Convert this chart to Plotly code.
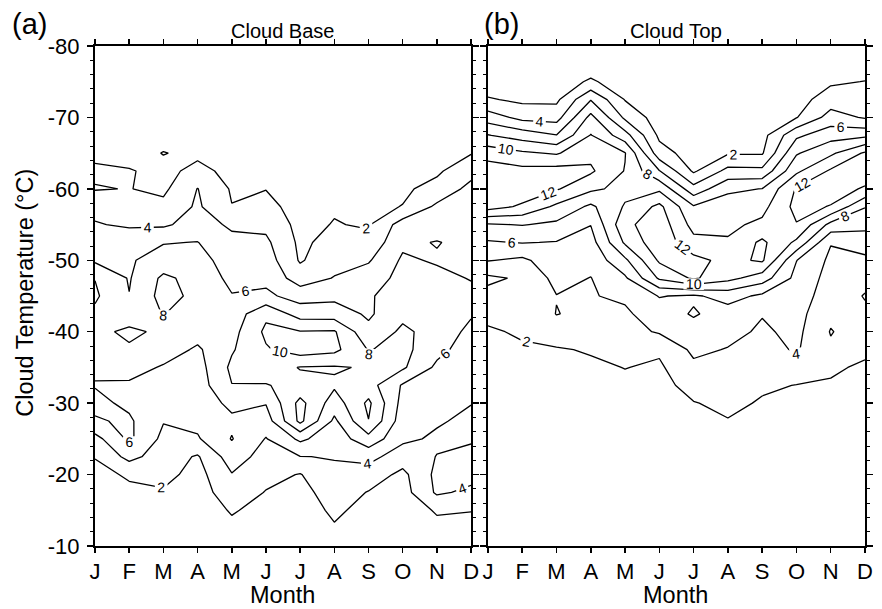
import numpy as np
import plotly.graph_objects as go

# ---------------- data ----------------
month_pos = [1, 2, 3, 4, 5, 6, 7, 8, 9, 10, 11, 12]
month_labels = ["J", "F", "M", "A", "M", "J", "J", "A", "S", "O", "N", "D"]
temps = [-80, -77.5, -75, -72.5, -70, -67.5, -65, -62.5, -60, -57.5, -55, -52.5, -50, -47.5,
         -45, -42.5, -40, -37.5, -35, -32.5, -30, -27.5, -25, -22.5, -20, -17.5, -15, -12.5, -10]
ytick_vals = [-80, -70, -60, -50, -40, -30, -20, -10]
ytick_text = ["-80", "-70", "-60", "-50", "-40", "-30", "-20", "-10"]
yminor_vals = [-78, -76, -74, -72, -68, -66, -64, -62, -58, -56, -54, -52, -48, -46, -44, -42,
               -38, -36, -34, -32, -28, -26, -24, -22, -18, -16, -14, -12]

# (a) Cloud Base: frequency per month column, temperature rows from -80 to -10
base_jan = [0, 0, 0.2, 0.4, 0.8, 1.2, 1.6, 2.3, 1.9, 3.2, 4.2, 5.0, 5.7, 7.95, 8.3, 7.6, 7.6, 7.5, 6.3, 5.9, 6.5, 5.8, 3.3, 2.1, 1.3, 0.9, 0.6, 0.4, 0.2]
base_feb = [0, 0, 0.2, 0.4, 0.7, 1.0, 1.4, 2.1, 2.05, 2.3, 3.6, 5.8, 5.8, 5.85, 6.05, 7.2, 8.3, 7.8, 6.8, 5.7, 5.6, 6.3, 6.4, 4.6, 2.3, 1.5, 1.0, 0.6, 0.3]
base_mar = [0, 0, 0.3, 0.6, 1.0, 1.5, 2.05, 1.6, 1.6, 2.5, 3.7, 5.9, 6.8, 8.4, 8.7, 8.05, 7.7, 7.0, 5.8, 5.2, 4.6, 4.1, 3.5, 3.0, 2.6, 1.8, 1.2, 0.8, 0.4]
base_apr = [0, 0.2, 0.5, 0.9, 1.3, 1.6, 1.7, 2.4, 4.05, 4.3, 4.8, 6.05, 6.8, 7.3, 7.5, 7.3, 6.8, 5.7, 5.2, 5.0, 4.8, 4.5, 3.8, 1.8, 1.3, 1.0, 0.7, 0.5, 0.3]
base_may = [0, 0, 0.2, 0.5, 0.8, 1.1, 1.4, 1.6, 1.8, 2.05, 3.7, 4.5, 5.0, 5.5, 6.1, 6.8, 7.3, 7.8, 8.4, 7.95, 6.5, 5.6, 6.1, 5.0, 3.9, 3.2, 2.2, 1.5, 1.0]
base_jun = [0, 0, 0.3, 0.7, 1.0, 1.3, 1.6, 1.8, 1.95, 2.6, 3.5, 4.4, 5.0, 5.5, 6.4, 9.6, 10.4, 9.8, 9.0, 7.9, 6.1, 5.0, 3.9, 3.2, 2.6, 1.9, 1.3, 0.9, 0.5]
base_jul = [0, 0, 0, 0.1, 0.2, 0.4, 0.6, 0.8, 1.0, 1.2, 1.4, 1.6, 1.8, 3.0, 5.2, 7.1, 10.1, 11.0, 7.9, 8.6, 10.6, 10.5, 6.4, 3.95, 1.9, 1.3, 0.9, 0.6, 0.4]
base_aug = [0, 0, 0.1, 0.2, 0.4, 0.6, 0.9, 1.2, 1.5, 1.8, 2.1, 2.7, 3.3, 4.1, 5.5, 7.0, 10.2, 10.5, 7.8, 8.3, 7.0, 5.6, 4.8, 4.1, 3.6, 3.0, 2.4, 1.8, 1.2]
base_sep = [0, 0, 0.1, 0.2, 0.4, 0.6, 0.9, 1.2, 1.4, 1.6, 1.8, 2.6, 3.8, 5.0, 5.8, 5.7, 6.5, 7.9, 8.2, 8.8, 10.4, 9.95, 7.3, 4.6, 3.1, 1.9, 1.3, 0.9, 0.5]
base_oct = [0, 0, 0.2, 0.4, 0.7, 1.0, 1.3, 1.5, 1.7, 2.05, 4.9, 5.6, 6.3, 6.6, 6.9, 7.5, 8.4, 8.6, 8.3, 5.8, 5.3, 4.9, 4.4, 3.0, 1.5, 1.2, 0.9, 0.6, 0.4]
base_nov = [0, 0.1, 0.3, 0.6, 0.9, 1.2, 1.5, 1.7, 2.6, 4.4, 5.0, 6.1, 5.8, 6.5, 7.0, 7.4, 7.2, 6.6, 5.6, 5.1, 4.7, 4.2, 3.7, 4.05, 4.5, 4.3, 2.2, 1.5, 1.0]
base_dec = [0, 0.1, 0.4, 0.7, 1.0, 1.3, 1.9, 3.3, 4.6, 5.0, 5.2, 5.4, 5.6, 5.9, 6.5, 6.2, 5.5, 5.0, 4.6, 4.3, 4.05, 3.6, 3.8, 4.5, 4.6, 3.6, 2.05, 1.5, 1.0]

# (b) Cloud Top
top_jan = [0, 0.3, 0.8, 2.2, 5.0, 8.1, 11.2, 13.0, 13.5, 12.8, 7.8, 5.8, 4.1, 1.6, 2.6, 2.4, 1.8, 1.2, 0.8, 0.5, 0.3, 0.2, 0.1, 0, 0, 0, 0, 0, 0]
top_feb = [0, 0.3, 0.9, 1.6, 3.4, 7.1, 10.3, 12.6, 13.2, 11.7, 8.1, 6.1, 3.6, 2.3, 2.7, 2.5, 2.2, 1.8, 1.2, 0.8, 0.5, 0.3, 0.2, 0.1, 0, 0, 0, 0, 0]
top_mar = [0, 0.3, 0.9, 1.6, 3.2, 6.05, 9.8, 12.8, 12.2, 9.6, 7.6, 5.9, 5.2, 4.6, 3.95, 4.05, 3.2, 1.8, 1.4, 1.0, 0.7, 0.4, 0.2, 0.1, 0, 0, 0, 0, 0]
top_apr = [0.2, 0.8, 2.3, 5.9, 8.6, 10.1, 11.5, 12.3, 10.4, 7.6, 6.05, 5.2, 4.6, 3.95, 3.9, 3.6, 3.1, 2.2, 1.6, 1.2, 0.8, 0.5, 0.3, 0.2, 0.1, 0, 0, 0, 0]
top_may = [0, 0.4, 0.9, 1.9, 3.6, 6.8, 10.1, 9.9, 9.4, 10.2, 11.5, 10.3, 7.6, 5.7, 4.3, 3.7, 3.3, 2.8, 2.05, 1.5, 1.0, 0.6, 0.3, 0.2, 0.1, 0, 0, 0, 0]
top_jun = [0, 0, 0.3, 0.6, 1.0, 1.6, 2.8, 6.1, 9.6, 12.5, 13.2, 13.4, 12.3, 10.3, 6.1, 5.0, 4.2, 2.3, 1.7, 1.2, 0.8, 0.5, 0.3, 0.2, 0.1, 0, 0, 0, 0]
top_jul = [0, 0, 0, 0.2, 0.4, 0.7, 1.1, 1.7, 4.7, 8.2, 9.3, 10.6, 12.6, 12.3, 5.7, 6.2, 5.2, 4.4, 3.6, 2.9, 1.9, 1.2, 0.7, 0.4, 0.2, 0, 0, 0, 0]
top_aug = [0, 0.1, 0.3, 0.6, 0.9, 1.3, 1.8, 4.6, 7.6, 9.0, 9.6, 10.2, 11.4, 10.6, 6.8, 5.1, 4.6, 3.9, 3.4, 2.9, 2.5, 1.9, 1.3, 0.8, 0.5, 0.3, 0.2, 0.1, 0]
top_sep = [0, 0.1, 0.3, 0.6, 0.9, 1.3, 1.8, 4.5, 8.05, 9.4, 10.4, 12.4, 12.3, 9.0, 5.6, 4.1, 3.7, 3.3, 2.8, 2.3, 1.8, 1.4, 1.0, 0.7, 0.4, 0.2, 0.1, 0, 0]
top_oct = [0, 0.2, 0.6, 1.2, 1.9, 5.6, 7.8, 9.6, 12.2, 12.6, 11.9, 9.6, 6.05, 5.4, 5.0, 4.7, 4.5, 4.2, 3.5, 1.95, 1.5, 1.1, 0.8, 0.5, 0.3, 0.2, 0.1, 0, 0]
top_nov = [0.1, 0.6, 1.7, 3.0, 4.8, 7.2, 9.6, 12.3, 12.8, 11.9, 7.4, 4.1, 3.6, 3.3, 3.0, 2.4, 1.9, 2.3, 2.3, 1.8, 1.3, 0.9, 0.6, 0.4, 0.2, 0.1, 0, 0, 0]
top_dec = [0.3, 1.1, 2.05, 2.9, 3.8, 7.5, 12.3, 13.0, 11.8, 8.1, 6.6, 4.9, 3.6, 3.5, 4.1, 3.7, 3.0, 2.4, 1.7, 1.3, 1.0, 0.7, 0.5, 0.3, 0.2, 0.1, 0, 0, 0]

z_base = np.array([base_jan, base_feb, base_mar, base_apr, base_may, base_jun,
                   base_jul, base_aug, base_sep, base_oct, base_nov, base_dec]).T
z_top = np.array([top_jan, top_feb, top_mar, top_apr, top_may, top_jun,
                  top_jul, top_aug, top_sep, top_oct, top_nov, top_dec]).T

FONT = "Liberation Sans, Arial, sans-serif"

# ---------------- figure ----------------
fig = go.Figure()


def add_panel(z, xa, ya, top_level):
    fig.add_trace(go.Contour(
        x=month_pos, y=temps, z=z, xaxis=xa, yaxis=ya,
        contours=dict(start=2, end=top_level, size=2, coloring="none",
                      showlabels=True,
                      labelfont=dict(size=14, color="black", family=FONT)),
        line=dict(color="black", width=1.3, smoothing=0),
        showscale=False, hoverinfo="skip"))


add_panel(z_base, "x", "y", 10)
add_panel(z_top, "x2", "y2", 12)

W, H = 882, 609
ML, MR, MT, MB = 95, 9, 46, 63
PW = W - ML - MR
PH = H - MT - MB


def px(x):
    return (x - ML) / PW


def py(y):
    return (H - MB - y) / PH


xcommon = dict(range=[1, 12], tickmode="array", tickvals=month_pos, ticktext=month_labels,
               ticks="outside", ticklen=5, tickwidth=1.5, tickcolor="black",
               showline=True, linecolor="black", linewidth=2, mirror="allticks",
               showgrid=False, zeroline=False,
               tickfont=dict(size=22, color="black", family=FONT))
ycommon = dict(range=[-10, -80], tickmode="array", tickvals=ytick_vals, ticktext=ytick_text,
               ticks="outside", ticklen=6, tickwidth=1.5, tickcolor="black",
               minor=dict(tickmode="array", tickvals=yminor_vals, ticks="outside",
                          ticklen=3, tickwidth=1, tickcolor="black", showgrid=False),
               showline=True, linecolor="black", linewidth=2, mirror="allticks",
               showgrid=False, zeroline=False,
               tickfont=dict(size=22, color="black", family=FONT))

fig.update_layout(
    width=W, height=H,
    margin=dict(l=ML, r=MR, t=MT, b=MB),
    paper_bgcolor="white", plot_bgcolor="white",
    showlegend=False,
    xaxis=dict(domain=[0, px(475)], anchor="y", **xcommon),
    yaxis=dict(domain=[0, 1], anchor="x", ticklabelstandoff=3, **ycommon),
    xaxis2=dict(domain=[px(492), 1], anchor="y2", **xcommon),
    yaxis2=dict(domain=[0, 1], anchor="x2", showticklabels=False, **ycommon),
)

annots = [
    dict(text="(a)", x=px(29), y=py(24), size=29),
    dict(text="(b)", x=px(506), y=py(24), size=29),
    dict(text="Cloud Base", x=px(284), y=py(31), size=20),
    dict(text="Cloud Top", x=px(682), y=py(31), size=20.5),
    dict(text="Month", x=px(284), y=py(595), size=23.5),
    dict(text="Month", x=px(682), y=py(595), size=23.5),
]
for a in annots:
    fig.add_annotation(text=a["text"], x=a["x"], y=a["y"], xref="paper", yref="paper",
                       xanchor="center", yanchor="middle", showarrow=False,
                       font=dict(size=a["size"], color="black", family=FONT))
fig.add_annotation(text="Cloud Temperature (\u00b0C)", x=px(24), y=py(293), xref="paper", yref="paper",
                   xanchor="center", yanchor="middle", showarrow=False, textangle=-90,
                   font=dict(size=23.5, color="black", family=FONT))

fig.write_html("out.html", config={"displayModeBar": False, "staticPlot": True})

# remove the browser's default page margin so the figure sits at the window origin
with open("out.html", "r", encoding="utf-8") as f:
    page = f.read()
page = page.replace("<body>", '<body style="margin:0;padding:0;overflow:hidden;">', 1)
with open("out.html", "w", encoding="utf-8") as f:
    f.write(page)
